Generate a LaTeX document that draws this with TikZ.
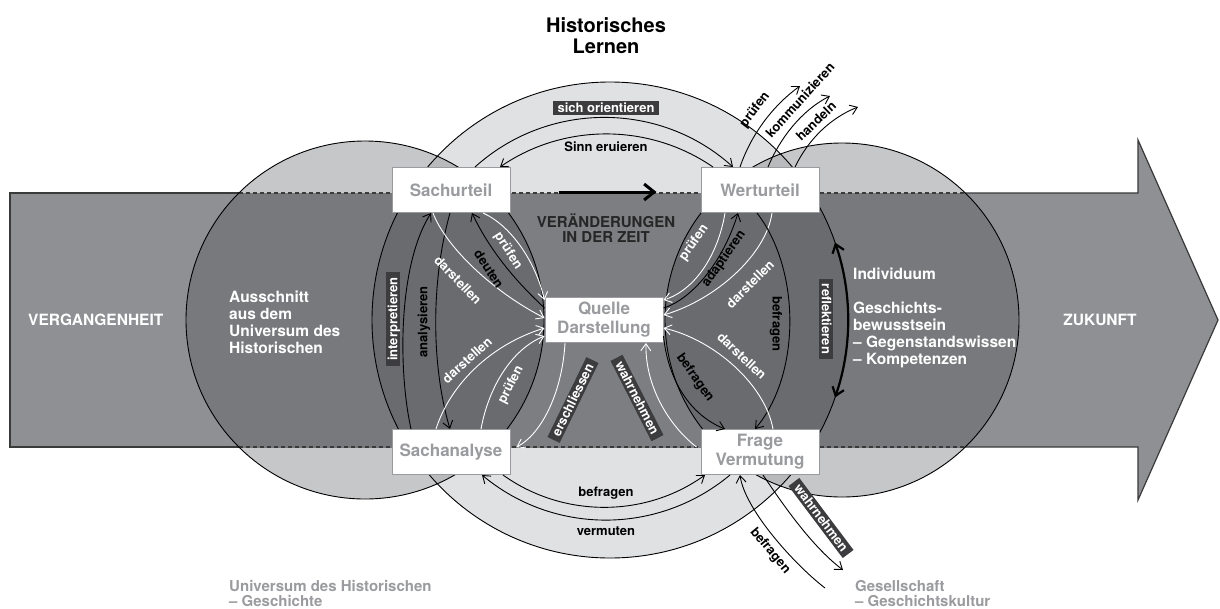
\documentclass[tikz,border=0pt]{standalone}
\usepackage{fontspec}
\setmainfont{TeX Gyre Heros}
\usetikzlibrary{arrows.meta}

\definecolor{bandgray}{HTML}{8F9093}
\definecolor{sidelight}{HTML}{C6C7C9}
\definecolor{midlight}{HTML}{E0E1E3}
\definecolor{overlight}{HTML}{B9BABC}
\definecolor{sidedark}{HTML}{78797C}
\definecolor{middark}{HTML}{7D7E81}
\definecolor{lensdark}{HTML}{6A6B6E}
\definecolor{boxtext}{HTML}{9A9B9E}
\definecolor{tagfill}{HTML}{3C3C3E}
\definecolor{edgegray}{HTML}{3A3A3A}

\tikzset{
  stepbox/.style={draw=boxtext, line width=1pt, fill=white, minimum width=118pt, minimum height=45pt,
    inner sep=0pt, align=center, text=boxtext, font=\bfseries\fontsize{17}{19}\selectfont},
  lbl/.style={font=\bfseries\fontsize{13}{14}\selectfont, inner sep=0pt},
  wlbl/.style={lbl, text=white},
  tag/.style={lbl, fill=tagfill, text=white, inner xsep=5pt, inner ysep=1.5pt, text height=9.5pt, text depth=1pt},
  sidetext/.style={font=\bfseries\fontsize{15.5}{17}\selectfont, text=white, align=left, inner sep=0pt},
  foot/.style={font=\bfseries\fontsize{15}{15.5}\selectfont, text=boxtext, align=left, inner sep=0pt, anchor=north west},
  bandline/.style={draw=edgegray, line width=1.2pt},
  barr/.style={draw=black, line width=0.9pt, -{Straight Barb[length=7pt,width=10pt]}},
  warr/.style={draw=white, line width=0.9pt, -{Straight Barb[length=7pt,width=10pt]}},
}

\begin{document}
\begin{tikzpicture}[x=1pt,y=-1pt]
  %%%%% START %%%%%

  \fill[white] (0,0) rectangle (1220,608);
  \useasboundingbox (0,0) rectangle (1220,608);

  \coordinate (ausschnitt) at (365,320);
  \coordinate (lernen) at (610,320);
  \coordinate (individuum) at (842,320);

  \fill[sidelight] (ausschnitt) circle (179);
  \fill[sidelight] (individuum) circle (177);
  \fill[midlight] (lernen) circle (238);
  \begin{scope}
    \clip (lernen) circle (238);
    \fill[overlight] (ausschnitt) circle (179);
    \fill[overlight] (individuum) circle (177);
  \end{scope}

  \fill[bandgray] (10,193) -- (1138,193) -- (1138,140) -- (1218,320) -- (1138,500) -- (1138,447) -- (10,447) -- cycle;
  \begin{scope}
    \clip (10,193) rectangle (1138,447);
    \fill[sidedark] (ausschnitt) circle (179);
    \fill[sidedark] (individuum) circle (177);
    \fill[middark] (lernen) circle (238);
    \clip (lernen) circle (238);
    \fill[lensdark] (ausschnitt) circle (179);
    \fill[lensdark] (individuum) circle (177);
  \end{scope}

  \draw[bandline] (239,193) -- (10,193) -- (10,447) -- (239,447);
  \draw[bandline] (965,193) -- (1138,193) -- (1138,140) -- (1218,320) -- (1138,500) -- (1138,447) -- (965,447);
  \draw[bandline, dash pattern=on 4pt off 3pt] (239,193) -- (965,193) (239,447) -- (965,447);

  \draw[line width=0.9pt] (ausschnitt) circle (179) (lernen) circle (238) (individuum) circle (177);

  % texts
  \node[font=\bfseries\fontsize{20}{21}\selectfont, align=center, inner sep=0pt] (titel) at (606,36) {Historisches\\Lernen};
  \node[sidetext, anchor=west] (vergangenheit) at (28,320) {VERGANGENHEIT};
  \node[sidetext, anchor=north west] (ausschnitttext) at (229,291) {Ausschnitt\\aus dem\\Universum des\\Historischen};
  \node[sidetext] (zukunft) at (1100,320) {ZUKUNFT};
  \node[sidetext, anchor=north west] (individuumtext) at (853,268) {Individuum\\[17pt]Geschichts-\\bewusstsein\\-- Gegenstandswissen\\-- Kompetenzen};
  \node[font=\bfseries\fontsize{15}{15.5}\selectfont, text=black!85, align=center, inner sep=0pt] (zeit) at (606,228) {VER\"ANDERUNGEN\\IN DER ZEIT};
  \node[foot] (universum) at (229,580) {Universum des Historischen\\-- Geschichte};
  \node[foot] (gesellschaft) at (855,580) {Gesellschaft\\-- Geschichtskultur};

  % boxes
  \node[stepbox] (sachurteil) at (451,190) {Sachurteil};
  \node[stepbox] (werturteil) at (760,190) {Werturteil};
  \node[stepbox] (quelle) at (604,320) {Quelle\\Darstellung};
  \node[stepbox] (sachanalyse) at (451,452) {Sachanalyse};
  \node[stepbox] (frage) at (760,452) {Frage\\Vermutung};

  \coordinate (pruefenend) at (800,86);
  \coordinate (kommend) at (830,96);
  \coordinate (handelnend) at (858,107);
  \coordinate (gesellend) at (843,570);
  \coordinate (gesellstart) at (825,588);

  % zeit arrow
  \draw[line width=3pt, -{Straight Barb[length=10pt,width=16pt]}] ([xshift=48pt,yshift=-2pt]sachurteil.east) -- ([xshift=-44pt,yshift=-2pt]werturteil.west);

  % top and bottom
  \draw[barr] ([xshift=24pt]sachurteil.north) .. controls (548,101) and (660,101) .. ([xshift=-27pt]werturteil.north);
  \draw[barr] ([xshift=-47pt]werturteil.north) .. controls (649,123) and (564,123) .. ([xshift=49pt]sachurteil.north);
  \draw[barr] ([xshift=52pt]sachanalyse.south) .. controls (563,518) and (645,518) .. ([xshift=-55pt]frage.south);
  \draw[barr] ([xshift=-30pt]frage.south) .. controls (658,535) and (554,535) .. ([xshift=31pt]sachanalyse.south);

  % left lens
  \draw[barr] ([xshift=-40pt]sachanalyse.north) .. controls (398,370) and (398,265) .. ([xshift=-20pt]sachurteil.south);
  \draw[barr] ([xshift=-1pt]sachurteil.south) .. controls (431,280) and (431,365) .. ([xshift=-1pt]sachanalyse.north);
  \draw[warr] ([xshift=-18pt]sachurteil.south) .. controls (445,245) and (490,290) .. ([yshift=2pt]quelle.west);
  \draw[warr] ([xshift=32pt]sachurteil.south) .. controls (510,225) and (535,260) .. ([yshift=20pt]quelle.west);
  \draw[barr] ([yshift=12pt]quelle.west) .. controls (520,285) and (492,255) .. ([xshift=21pt]sachurteil.south);
  \draw[warr] ([xshift=-15pt]sachanalyse.north) .. controls (450,385) and (490,345) .. ([yshift=-8pt]quelle.west);
  \draw[warr] ([xshift=30pt]sachanalyse.north) .. controls (488,390) and (510,350) .. ([yshift=-16pt]quelle.west);

  % right lens
  \draw[warr] ([xshift=-35pt]werturteil.south) .. controls (718,255) and (695,290) .. ([yshift=20pt]quelle.east);
  \draw[barr] ([yshift=12pt]quelle.east) .. controls (690,300) and (722,265) .. ([xshift=-22pt]werturteil.south);
  \draw[warr] ([xshift=12pt]werturteil.south) .. controls (766,255) and (715,300) .. ([yshift=5pt]quelle.east);
  \draw[barr] ([xshift=-3pt]werturteil.south) .. controls (801,270) and (801,375) .. ([xshift=-5pt]frage.north);
  \draw[warr] ([xshift=13pt]frage.north) .. controls (765,385) and (715,340) .. ([yshift=-8pt]quelle.east);
  \draw[barr] ([yshift=-16pt]quelle.east) .. controls (668,380) and (690,415) .. ([xshift=-35pt]frage.north);
  \draw[line width=2.2pt, {Straight Barb[length=8pt,width=12pt]}-{Straight Barb[length=8pt,width=12pt]}]
    ([shift={(-19:238)}]lernen) arc[start angle=-19, end angle=19, radius=238];

  % middle
  \draw[warr] ([xshift=-39pt]quelle.south) .. controls (562,395) and (540,435) .. ([xshift=6pt,yshift=5pt]sachanalyse.east);
  \draw[warr] ([xshift=-4pt,yshift=5pt]frage.west) .. controls (668,425) and (645,385) .. ([xshift=42pt]quelle.south);

  % out of the circle
  \draw[barr] ([xshift=-20pt]werturteil.north) .. controls (752,132) and (775,104) .. (pruefenend);
  \draw[barr] ([xshift=8pt]werturteil.north) .. controls (780,138) and (802,110) .. (kommend);
  \draw[barr] ([xshift=35pt]werturteil.north) .. controls (808,140) and (830,118) .. (handelnend);
  \draw[barr] ([xshift=3pt]frage.south) .. controls (780,500) and (810,545) .. (gesellend);
  \draw[barr] (gesellstart) .. controls (795,565) and (745,510) .. ([xshift=-20pt]frage.south);

  % labels
  \node[tag] (tagorient) at (606,108) {sich orientieren};
  \node[lbl] (lblsinn) at (606,147) {Sinn eruieren};
  \node[lbl] (lblbefragenu) at (606,493) {befragen};
  \node[lbl] (lblvermuten) at (606,531) {vermuten};
  \node[tag, rotate=90] (taginterpret) at (393,319) {interpretieren};
  \node[lbl, rotate=90] (lblanalys) at (424,322) {analysieren};
  \node[wlbl, rotate=-46] (lbldarstlo) at (458,280) {darstellen};
  \node[lbl, rotate=-57] (lbldeuten) at (489,269) {deuten};
  \node[wlbl, rotate=-57] (lblprueflo) at (508,251) {prüfen};
  \node[wlbl, rotate=42] (lbldarstlu) at (467,360) {darstellen};
  \node[wlbl, rotate=63] (lblpruetlu) at (511,385) {prüfen};
  \node[wlbl, rotate=55] (lblpruefro) at (694,243) {prüfen};
  \node[lbl, rotate=55] (lbladapt) at (724,259) {adaptieren};
  \node[wlbl, rotate=45] (lbldarstro) at (750,284) {darstellen};
  \node[lbl, rotate=-90] (lblbefragenr) at (776,324) {befragen};
  \node[tag, rotate=-90] (tagreflekt) at (826,319) {reflektieren};
  \node[wlbl, rotate=-43] (lbldarstru) at (742,356) {darstellen};
  \node[lbl, rotate=-55] (lblbefragenru) at (695,378) {befragen};
  \node[tag, rotate=64] (tagerschl) at (573,400) {erschliessen};
  \node[tag, rotate=-63] (tagwahrm) at (637,398) {wahrnehmen};
  \node[lbl, rotate=53] (lblprueft) at (755,110) {prüfen};
  \node[lbl, rotate=48] (lblkomm) at (800,100) {kommunizieren};
  \node[lbl, rotate=44] (lblhandeln) at (816,121) {handeln};
  \node[tag, rotate=-53] (tagwahru) at (821,518) {wahrnehmen};
  \node[lbl, rotate=-50] (lblbefrageng) at (770,551) {befragen};

  %%%%% END %%%%%
\end{tikzpicture}
\end{document}
